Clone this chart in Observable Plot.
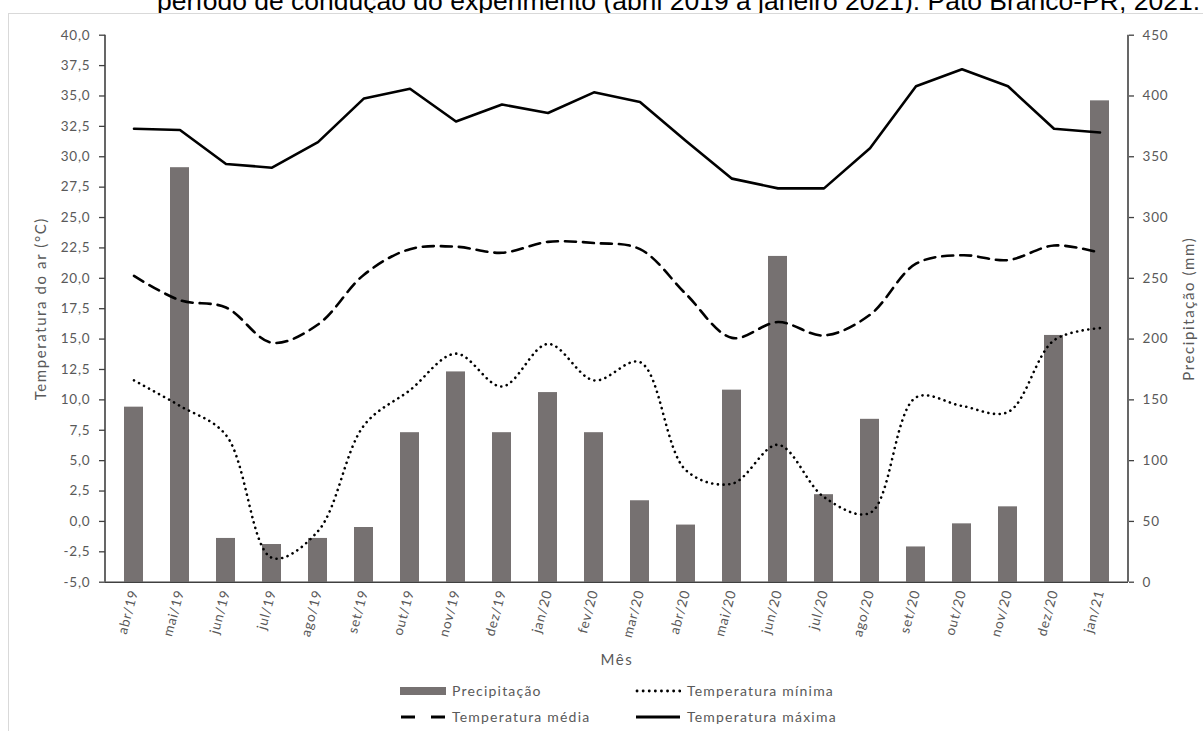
<!DOCTYPE html>
<html>
<head>
<meta charset="utf-8">
<script src="https://cdn.jsdelivr.net/npm/d3@7"></script>
<script src="https://cdn.jsdelivr.net/npm/@observablehq/plot@0.6"></script>
<style>
  body { margin: 0; background: #fff; width: 1203px; height: 731px; overflow: hidden; position: relative; }
  #title { position: absolute; left: 157px; top: -12.4px; font: 26.5px/26.5px "Liberation Sans", Arial, sans-serif; white-space: nowrap; color: #000; }
  #frame { position: absolute; left: 8px; top: 13px; width: 1300px; height: 800px; border-left: 1px solid #d9d9d9; border-top: 1px solid #d9d9d9; background: #fff; }
  #chart { position: absolute; left: 0; top: 0; width: 1203px; height: 680px; }
  #chart svg { position: absolute; left: 0; top: 0; overflow: visible; }
  .leg { position: absolute; display: flex; align-items: center; font: 14px Lato, "Open Sans", sans-serif; letter-spacing: 1.2px; color: #595959; white-space: nowrap; }
  .leg svg { margin-right: 6px; }
</style>
</head>
<body>
<div id="title">período de condução do experimento (abril 2019 a janeiro 2021). Pato Branco-PR, 2021.</div>
<div id="frame"></div>
<div id="chart"></div>
<div id="legend"></div>
<script>
// Monthly records, April 2019 – January 2021
const months = ["abr/19","mai/19","jun/19","jul/19","ago/19","set/19","out/19","nov/19","dez/19",
  "jan/20","fev/20","mar/20","abr/20","mai/20","jun/20","jul/20","ago/20","set/20","out/20","nov/20","dez/20","jan/21"];
// Precipitation (mm)
const precip = [144, 341, 36, 31, 36, 45, 123, 173, 123, 156, 123, 67, 47, 158, 268, 72, 134, 29, 48, 62, 203, 396];
// Air temperature (°C)
const tmin  = [11.6, 9.5, 7.1, -3.0, -0.8, 7.9, 10.8, 13.8, 11.1, 14.6, 11.6, 13.1, 4.2, 3.1, 6.3, 2.0, 0.7, 10.2, 9.5, 9.0, 14.9, 15.9];
const tmean = [20.2, 18.2, 17.6, 14.7, 16.2, 20.3, 22.4, 22.6, 22.1, 23.0, 22.9, 22.4, 18.7, 15.1, 16.4, 15.3, 17.0, 21.2, 21.9, 21.5, 22.7, 22.1];
const tmax  = [32.3, 32.2, 29.4, 29.1, 31.2, 34.8, 35.6, 32.9, 34.3, 33.6, 35.3, 34.5, 31.3, 28.2, 27.4, 27.4, 30.7, 35.8, 37.2, 35.8, 32.3, 32.0];
// Axis ticks
const tempTicks = [-5, -2.5, 0, 2.5, 5, 7.5, 10, 12.5, 15, 17.5, 20, 22.5, 25, 27.5, 30, 32.5, 35, 37.5, 40];
const precipTicks = [0, 50, 100, 150, 200, 250, 300, 350, 400, 450];
// Labels
const tempTitle = "Temperatura do ar (°C)";
const precipTitle = "Precipitação (mm)";
const xTitle = "Mês";
const seriesNames = { precip: "Precipitação", tmin: "Temperatura mínima", tmean: "Temperatura média", tmax: "Temperatura máxima" };

const rows = months.map((m, i) => ({ month: m, precip: precip[i], tmin: tmin[i], tmean: tmean[i], tmax: tmax[i] }));

const W = 1203, H = 680;
const margins = { marginTop: 34.7, marginRight: 75, marginBottom: 98.3, marginLeft: 105 };
const xOpts = { type: "band", domain: months, paddingInner: 0.59, paddingOuter: 0.295 };
const font = "Lato, 'Open Sans', sans-serif";
const axisInk = "#404040", labelInk = "#595959", barFill = "#767171";
const fmtTemp = d => d.toFixed(1).replace(".", ",");
const svgStyle = { background: "transparent", fontFamily: font, fontSize: "13.5px", letterSpacing: "0.8px" };

// Precipitation bars on the right-hand scale
const barsPlot = Plot.plot({
  width: W, height: H, ...margins,
  style: svgStyle,
  x: { ...xOpts, axis: null },
  y: { domain: [0, 450] },
  marks: [
    Plot.barY(rows, { x: "month", y: "precip", fill: barFill }),
    Plot.axisY({ anchor: "right", ticks: precipTicks, tickSize: 5, tickPadding: 9, tickFormat: d => String(d),
      stroke: axisInk, fill: labelInk, strokeWidth: 1.3, label: null, fontSize: 13.5 })
  ]
});

// Temperature lines on the left-hand scale
const linesPlot = Plot.plot({
  width: W, height: H, ...margins,
  style: svgStyle,
  x: xOpts,
  y: { domain: [-5, 40] },
  marks: [
    Plot.axisY({ anchor: "left", ticks: tempTicks, tickSize: 6, tickPadding: 9, tickFormat: fmtTemp,
      stroke: axisInk, fill: labelInk, strokeWidth: 1.3, label: null, fontSize: 13.5 }),
    Plot.axisX({ anchor: "bottom", tickSize: 0, tickPadding: 8, tickRotate: -75, fill: labelInk, label: null, fontSize: 13.5 }),
    Plot.ruleY([-5], { stroke: axisInk, strokeWidth: 1.6 }),
    Plot.line(rows, { x: "month", y: "tmin", curve: "catmull-rom", stroke: "#000", strokeWidth: 2.6,
      strokeDasharray: "0.1,5.6", strokeLinecap: "round" }),
    Plot.line(rows, { x: "month", y: "tmean", curve: "catmull-rom", stroke: "#000", strokeWidth: 2.6,
      strokeDasharray: "11,7" }),
    Plot.line(rows, { x: "month", y: "tmax", stroke: "#000", strokeWidth: 2.6 }),
    Plot.text([tempTitle], { text: d => d, frameAnchor: "left", textAnchor: "middle", dx: -64, rotate: -90, fill: labelInk, fontSize: 15 }),
    Plot.text([precipTitle], { text: d => d, frameAnchor: "right", textAnchor: "middle", dx: 61, rotate: -90, fill: labelInk, fontSize: 15 }),
    Plot.text([xTitle], { text: d => d, frameAnchor: "bottom", textAnchor: "middle", dy: 83, fill: labelInk, fontSize: 15 })
  ]
});

// Vertical axis lines at the frame edges
const svgL = d3.select(linesPlot.tagName === "svg" ? linesPlot : linesPlot.querySelector("svg"));
const yR = linesPlot.scale("y").range;
[margins.marginLeft, W - margins.marginRight].forEach(x => {
  svgL.append("line").attr("x1", x).attr("x2", x).attr("y1", yR[0]).attr("y2", yR[1])
    .attr("stroke", axisInk).attr("stroke-width", 1.6);
});
// Axis titles get a slightly looser spacing
svgL.selectAll("text").filter(function () { return [tempTitle, precipTitle, xTitle].includes(this.textContent); })
  .style("letter-spacing", "1.6px");

const chart = document.getElementById("chart");
chart.append(barsPlot, linesPlot);

// Legend below the chart
const legendItems = [
  { key: "precip", left: 400, top: 682 },
  { key: "tmin",   left: 635, top: 682 },
  { key: "tmean",  left: 400, top: 708 },
  { key: "tmax",   left: 635, top: 708 }
];
const legend = d3.select("#legend");
legendItems.forEach(({ key, left, top }) => {
  const item = legend.append("div").attr("class", "leg").style("left", left + "px").style("top", top + "px");
  const sw = item.append("svg").attr("width", 46).attr("height", 16);
  if (key === "precip") {
    sw.append("rect").attr("x", 0).attr("y", 4).attr("width", 46).attr("height", 8).attr("fill", barFill);
  } else {
    const ln = sw.append("line").attr("x1", 1).attr("x2", 45).attr("y1", 8).attr("y2", 8)
      .attr("stroke", "#000").attr("stroke-width", 2.8);
    if (key === "tmin") ln.attr("stroke-dasharray", "0.1,6").attr("stroke-linecap", "round").attr("x1", 2);
    if (key === "tmean") ln.attr("stroke-dasharray", "14,16");
  }
  item.append("span").text(seriesNames[key]);
});
</script>
</body>
</html>
